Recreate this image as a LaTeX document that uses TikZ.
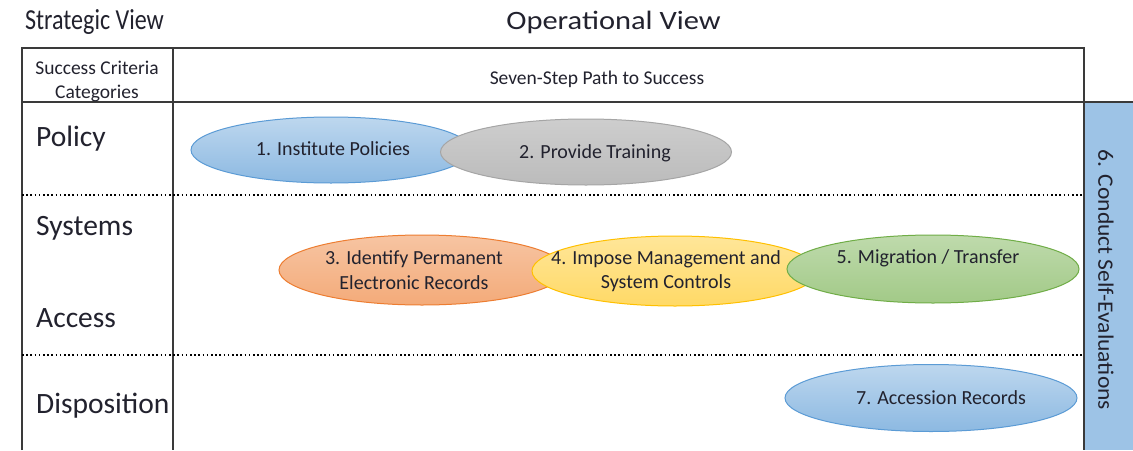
\documentclass[tikz,border=0pt]{standalone}
\usepackage{graphicx}
\usepackage{fontspec}
\setmainfont{Carlito}
\usetikzlibrary{shapes.geometric}
\definecolor{gridline}{HTML}{3A3A3A}
\definecolor{bandblue}{HTML}{9DC3E6}
\definecolor{ink}{HTML}{22222E}
\definecolor{cblue}{HTML}{5B9BD5}
\definecolor{cgray}{HTML}{A5A5A5}
\definecolor{corange}{HTML}{ED7D31}
\definecolor{cyellow}{HTML}{FFC000}
\definecolor{cgreen}{HTML}{70AD47}
\tikzset{
  rule/.style={draw=gridline, line width=1.4pt},
  sep/.style={draw=black, line width=1.6pt, dash pattern=on 1.6pt off 2.6pt},
  step oval/.style={ellipse, line width=1pt, inner sep=0pt},
  steptext/.style={font=\fontsize{20}{24.5}\selectfont, align=center, text=ink},
  heading/.style={font=\fontsize{29}{34}\selectfont, text=ink},
  category/.style={font=\fontsize{29.5}{34}\selectfont, anchor=west, text=ink, inner sep=0pt},
  small/.style={font=\fontsize{19.5}{24}\selectfont, align=center, text=ink},
}
\begin{document}
\begin{tikzpicture}[x=1pt, y=-1pt]
\useasboundingbox (0,0) rectangle (1133,450);
\fill[white] (0,0) rectangle (1133,450);

% headings above the table
\node[heading] (strat) at (94.5,22) {\scalebox{0.83}[1]{Strategic View}};
\node[heading, font=\fontsize{26.5}{30}\selectfont] (oper) at (613.5,22) {\scalebox{1.15}[1]{Operational View}};

% self-evaluation band on the right
\fill[bandblue] (1084,102) rectangle (1133,450);
\draw[rule] (1084,102) -- (1084,450);
\node[font=\fontsize{22}{26}\selectfont, rotate=-90, text=ink] (eval) at (1106,280) {\scalebox{1.07}[1]{6. Conduct Self-Evaluations}};

% table frame
\draw[rule] (22,450) -- (22,48) -- (1084,48) -- (1084,102);
\draw[rule] (22,102) -- (1133,102);
\draw[rule] (173,48) -- (173,450);

% row separators
\draw[sep] (22,195) -- (1082,195);
\draw[sep] (22,355) -- (1082,355);

% header texts
\node[small] (crit) at (97,81) {Success Criteria\\Categories};
\node[small] (path) at (597,79) {Seven-Step Path to Success};

% categories
\node[category] (policy) at (36,139) {Policy};
\node[category] (systems) at (36,228) {Systems};
\node[category] (access) at (36,318) {Access};
\node[category] (disp) at (36,406) {Disposition};

% steps
\node[step oval, draw=cblue, top color=cblue!40!white, bottom color=cblue!70!white,
      minimum width=280pt, minimum height=66pt] (s1) at (331,150) {};
\node[steptext] (t1) at (333,149) {1. Institute Policies};
\node[step oval, draw=cgray, top color=cgray!55!white, bottom color=cgray!75!white,
      minimum width=291pt, minimum height=66pt] (s2) at (586,152) {};
\node[steptext] (t2) at (595,153) {2. Provide Training};

\node[step oval, draw=corange, top color=corange!45!white, bottom color=corange!65!white,
      minimum width=286pt, minimum height=70pt] (s3) at (422,270) {};
\node[steptext] (t3) at (414,270) {3. Identify Permanent\\Electronic Records};
\node[step oval, draw=cyellow, top color=cyellow!40!white, bottom color=cyellow!60!white,
      minimum width=286pt, minimum height=70pt] (s4) at (675,271) {};
\node[steptext] (t4) at (666,271) {4. Impose Management and\\System Controls};
\node[step oval, draw=cgreen, top color=cgreen!45!white, bottom color=cgreen!65!white,
      minimum width=292pt, minimum height=68pt] (s5) at (933,269) {};
\node[steptext] (t5) at (928,258) {5. Migration / Transfer};

\node[step oval, draw=cblue, top color=cblue!40!white, bottom color=cblue!70!white,
      minimum width=292pt, minimum height=67pt] (s7) at (931,398) {};
\node[steptext] (t7) at (941,398) {7. Accession Records};
\end{tikzpicture}
\end{document}
